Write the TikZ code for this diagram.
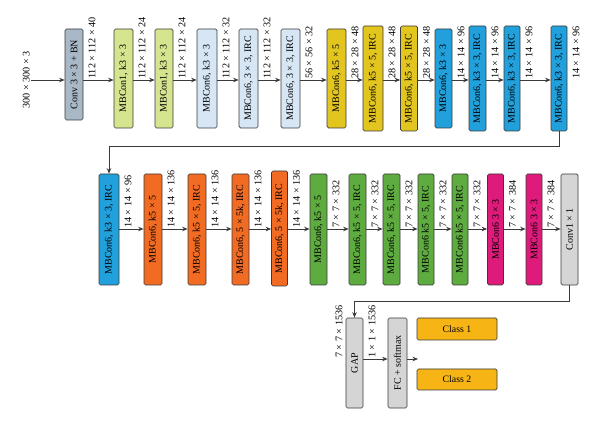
\documentclass[tikz,border=0pt]{standalone}
\usepackage{fontspec}
\setmainfont{Liberation Serif}
\usetikzlibrary{arrows.meta,calc}
\definecolor{cConv}{HTML}{A9B8C7}
\definecolor{cMBone}{HTML}{D5E48E}
\definecolor{cLBlue}{HTML}{D7E6F5}
\definecolor{cYellow}{HTML}{E3C520}
\definecolor{cBlue}{HTML}{21A0DC}
\definecolor{cOrange}{HTML}{F26B22}
\definecolor{cGreen}{HTML}{5EAB40}
\definecolor{cMagenta}{HTML}{DE1B7B}
\definecolor{cGray}{HTML}{D5D5D5}
\definecolor{cClass}{HTML}{F7B515}
\definecolor{cLine}{HTML}{3A3A3A}
\newcommand\dfont{\fontsize{10}{12}\selectfont}
\newcommand\lfont{\fontsize{10.2}{12}\selectfont}
% name, colour, cx, cy, w, h, text
\newcommand\blkat[7]{\node[blk,fill=#2,minimum width=#5pt,minimum height=#6pt] (#1) at (#3,#4) {\rotatebox{90}{#7}};}
\begin{document}
\begin{tikzpicture}[x=1pt,y=-1pt,
  blk/.style={draw=cLine,line width=0.7pt,rounded corners=1.5pt,inner sep=0pt,font=\dfont},
  arr/.style={draw=cLine,line width=0.8pt,-{Stealth[length=5.5pt,width=4.5pt]}},
  lbl/.style={rotate=90,anchor=north west,inner sep=1pt,font=\lfont},
  lbll/.style={rotate=90,anchor=south west,inner sep=1pt,font=\lfont},
  clsbox/.style={draw=cLine,line width=0.7pt,rounded corners=1.5pt,fill=cClass,inner sep=0pt,font=\fontsize{9.8}{11}\selectfont}]
\useasboundingbox (0,0) rectangle (600,430);
\coordinate (r1) at (0,80);
\coordinate (r2) at (0,229);
\coordinate (r3) at (0,359);
% ---------- row 1 ----------
\blkat{conv}{cConv}{74}{74.5}{18}{91}{Conv 3 × 3 + BN}
\blkat{a1}{cMBone}{123.5}{78.5}{19}{99}{MBCon1, k3 × 3}
\blkat{a2}{cMBone}{164}{78.5}{18}{99}{MBCon1, k3 × 3}
\blkat{lb1}{cLBlue}{207}{78.5}{20}{99}{MBCon6, k3 × 3}
\blkat{lb2}{cLBlue}{248.5}{78.5}{19}{99}{MBCon6, 3 × 3, IRC}
\blkat{lb3}{cLBlue}{290.5}{78.5}{19}{99}{MBCon6, 3 × 3, IRC}
\blkat{y1}{cYellow}{336.5}{78.5}{19}{99}{MBCon6, k5 × 5}
\blkat{y2}{cYellow}{373}{78.5}{20}{105}{MBCon6, k5 × 5, IRC}
\blkat{y3}{cYellow}{409}{78.5}{17}{105}{MBCon6, k5 × 5, IRC}
\blkat{b1}{cBlue}{443.5}{78.5}{17}{99}{MBCon6, k3 × 3}
\blkat{b2}{cBlue}{477.5}{78.5}{17}{105}{MBCon6, k3 × 3, IRC}
\blkat{b3}{cBlue}{512}{78.5}{16}{105}{MBCon6, k3 × 3, IRC}
\blkat{b4}{cBlue}{559}{78.5}{16}{105}{MBCon6, k3 × 3, IRC}
% input
\coordinate (in) at (31,80);
\node[rotate=90,anchor=south,inner sep=1pt,font=\lfont] (inlbl) at (in) {300 × 300 × 3};
\draw[arr] (in) -- (conv.west |- in);
\foreach \p/\q/\t in {conv/a1/112 × 112 × 40, a1/a2/112 × 112 × 24, a2/lb1/112 × 112 × 24,
  lb1/lb2/112 × 112 × 32, lb2/lb3/112 × 112 × 32, lb3/y1/56 × 56 × 32, y1/y2/28 × 28 × 48,
  y2/y3/28 × 28 × 48, y3/b1/28 × 28 × 48, b1/b2/14 × 14 × 96, b2/b3/14 × 14 × 96, b3/b4/14 × 14 × 96}{
  \draw[arr] (\p.east |- r1) -- (\q.west |- r1);
  \node[lbl] (l-\p) at ($(\p.east |- r1)+(4,0)$) {\t};
}
\node[lbl] (l-b4) at ($(b4.east |- r1)+(4,0)$) {14 × 14 × 96};
% ---------- row 2 ----------
\blkat{c1}{cBlue}{109}{229.5}{20}{111}{MBCon6, k3 × 3, IRC}
\blkat{o1}{cOrange}{153}{229.5}{18}{111}{MBCon6, k5 × 5}
\blkat{o2}{cOrange}{197}{229.5}{18}{111}{MBCon6, k5 × 5, IRC}
\blkat{o3}{cOrange}{240.5}{229.5}{17}{111}{MBCon6, 5 × 5k, IRC}
\blkat{o4}{cOrange}{279.5}{228.5}{16}{115}{MBCon6, 5 × 5k, IRC}
\blkat{g1}{cGreen}{318.5}{229.5}{17}{111}{MBCon6, k5 × 5}
\blkat{g2}{cGreen}{357.5}{229.5}{17}{111}{MBCon6, k5 × 5, IRC}
\blkat{g3}{cGreen}{391.5}{229.5}{17}{111}{MBCon6, k5 × 5, IRC}
\blkat{g4}{cGreen}{426}{229.5}{16}{111}{MBCon6 k5 × 5, IRC}
\blkat{g5}{cGreen}{460}{229.5}{16}{111}{MBCon6 k5 × 5, IRC}
\blkat{m1}{cMagenta}{495.5}{229.5}{16}{111}{MBCon6 3 × 3}
\blkat{m2}{cMagenta}{534}{229.5}{16}{111}{MBCon6 3 × 3}
\blkat{gr}{cGray}{569.5}{229.5}{17}{111}{Conv1 × 1}
\draw[arr] (b4.south) -- ++(0,15) -| (c1.north);
\foreach \p/\q/\t in {c1/o1/14 × 14 × 96, o1/o2/14 × 14 × 136, o2/o3/14 × 14 × 136,
  o3/o4/14 × 14 × 136, o4/g1/14 × 14 × 136, g1/g2/7 × 7 × 332, g2/g3/7 × 7 × 332,
  g3/g4/7 × 7 × 332, g4/g5/7 × 7 × 332, g5/m1/7 × 7 × 332, m1/m2/7 × 7 × 384, m2/gr/7 × 7 × 384}{
  \draw[arr] (\p.east |- r2) -- (\q.west |- r2);
  \node[lbl] (l-\p) at ($(\p.east |- r2)+(4,0)$) {\t};
}
% ---------- row 3 ----------
\blkat{gap}{cGray}{354.5}{363}{17}{90}{GAP}
\blkat{fc}{cGray}{397.5}{363}{19}{90}{FC + softmax}
\draw[arr] (gr.south) -- ++(0,16) -| (gap.north);
\node[lbll] (l-gapin) at ($(gap.west |- r3)+(-2,0)$) {7 × 7 × 1536};
\draw[arr] (gap.east |- r3) -- (fc.west |- r3);
\node[lbl] (l-gap) at ($(gap.east |- r3)+(4,0)$) {1 × 1 × 1536};
\coordinate (out) at (418,359);
\draw[arr] (fc.east |- r3) -- (out);
\node[clsbox,minimum width=80pt,minimum height=22pt] (cls1) at (457,329) {Class 1};
\node[clsbox,minimum width=80pt,minimum height=21pt] (cls2) at (457,379.5) {Class 2};
\end{tikzpicture}
\end{document}
